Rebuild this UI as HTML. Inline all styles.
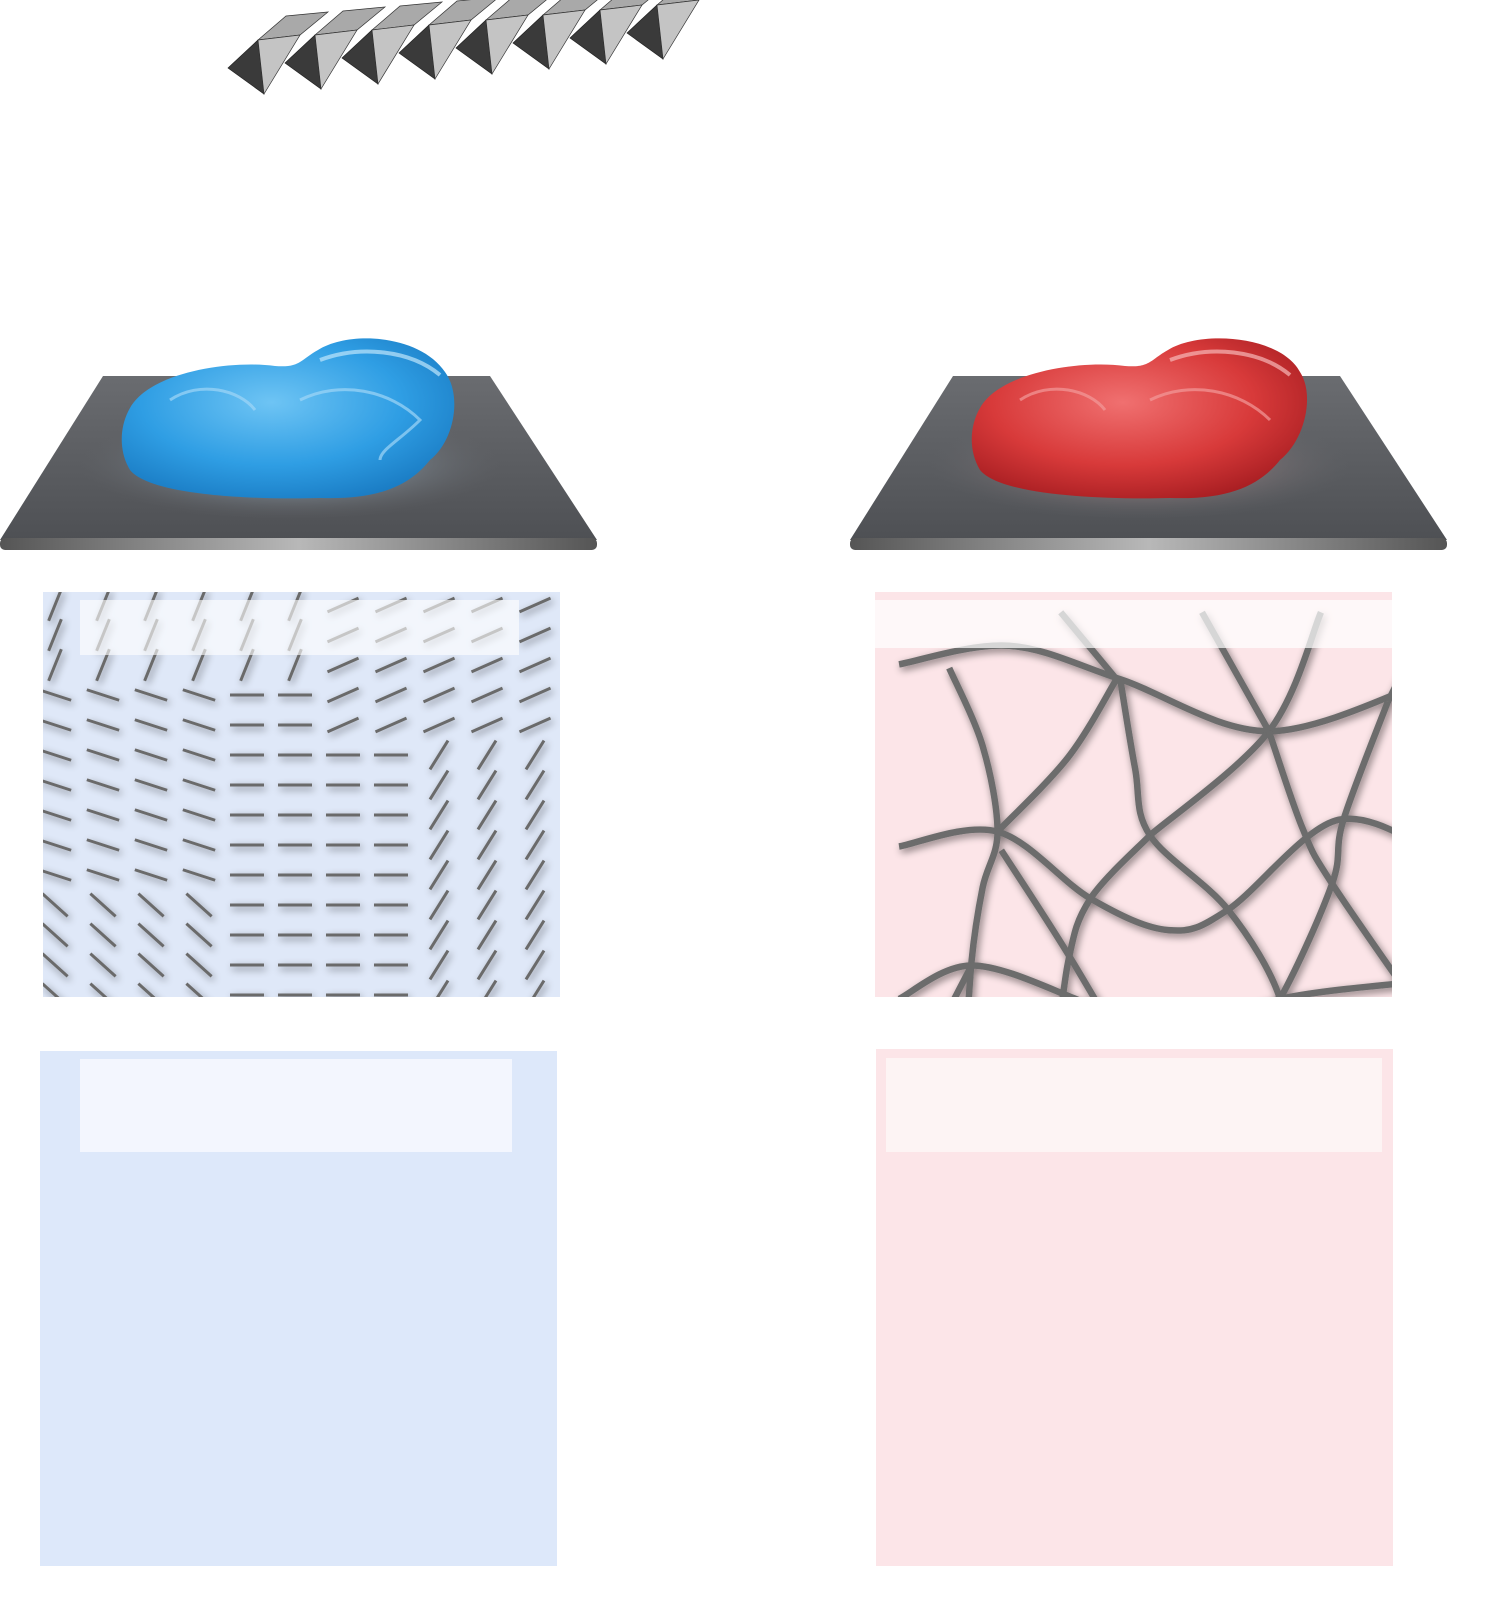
<!DOCTYPE html>
<html><head><meta charset="utf-8"><style>
html,body{margin:0;padding:0;background:#fff;}
svg{display:block;}
</style></head><body>
<svg id="fig" width="1488" height="1610" viewBox="0 0 1488 1610" xmlns="http://www.w3.org/2000/svg">
<defs>
<linearGradient id="plateG" x1="0" y1="0" x2="0" y2="1"><stop offset="0" stop-color="#6a6c70"/><stop offset="1" stop-color="#4e5054"/></linearGradient>
<linearGradient id="edgeG" x1="0" y1="0" x2="1" y2="0"><stop offset="0" stop-color="#555"/><stop offset=".5" stop-color="#b8b8b8"/><stop offset="1" stop-color="#555"/></linearGradient>
<radialGradient id="glowB" cx=".5" cy=".5" r=".5"><stop offset="0" stop-color="#b8d8ee" stop-opacity=".9"/><stop offset="1" stop-color="#6a6c70" stop-opacity="0"/></radialGradient>
<radialGradient id="glowR" cx=".5" cy=".5" r=".5"><stop offset="0" stop-color="#e8b0b0" stop-opacity=".8"/><stop offset="1" stop-color="#6a6c70" stop-opacity="0"/></radialGradient>
<radialGradient id="blueG" cx=".45" cy=".4" r=".65"><stop offset="0" stop-color="#6ec4f4"/><stop offset=".6" stop-color="#2f9ee4"/><stop offset="1" stop-color="#1a7cc4"/></radialGradient>
<radialGradient id="redG" cx=".45" cy=".4" r=".65"><stop offset="0" stop-color="#f07070"/><stop offset=".6" stop-color="#d83a3a"/><stop offset="1" stop-color="#a81e22"/></radialGradient>
<filter id="sh" x="-20%" y="-20%" width="140%" height="140%"><feGaussianBlur in="SourceAlpha" stdDeviation="4"/><feOffset dx="2" dy="3"/><feComponentTransfer><feFuncA type="linear" slope=".5"/></feComponentTransfer><feMerge><feMergeNode/><feMergeNode in="SourceGraphic"/></feMerge></filter>
<clipPath id="clipL"><rect x="43" y="592" width="517" height="405"/></clipPath>
<clipPath id="clipR"><rect x="875" y="592" width="517" height="405"/></clipPath>
</defs>

<g id="zig"></g>

<g>
<polygon points="103,376 490,376 597,540 0,540" fill="url(#plateG)"/>
<rect x="0" y="538" width="597" height="12" rx="5" fill="url(#edgeG)"/>
<ellipse cx="290" cy="465" rx="210" ry="55" fill="url(#glowB)"/>
</g>
<g>
<path d="M130,408 C150,372 230,360 275,366 C300,368 300,360 318,350 C350,330 420,335 445,372 C462,395 455,440 430,460 C410,485 380,500 320,498 C250,500 150,495 130,470 C118,450 120,425 130,408 Z" fill="url(#blueG)"/>
<path d="M320,360 C360,345 410,350 440,375" stroke="#bfe6fb" stroke-width="4" fill="none" opacity=".7"/>
<path d="M170,400 C200,380 240,390 255,410 M300,400 C340,380 390,390 420,420 C400,440 380,450 380,460" stroke="#9fd6f7" stroke-width="3" fill="none" opacity=".7"/>
</g>

<g>
<polygon points="953,376 1340,376 1447,540 850,540" fill="url(#plateG)"/>
<rect x="850" y="538" width="597" height="12" rx="5" fill="url(#edgeG)"/>
<ellipse cx="1140" cy="465" rx="210" ry="55" fill="url(#glowR)"/>
</g>
<g>
<path d="M980,408 C1000,372 1080,360 1125,366 C1150,368 1150,360 1168,350 C1200,330 1280,335 1300,372 C1315,395 1305,440 1280,460 C1260,485 1230,500 1170,498 C1100,500 1000,495 980,470 C968,450 970,425 980,408 Z" fill="url(#redG)"/>
<path d="M1170,360 C1210,345 1260,350 1290,375" stroke="#f6b8b8" stroke-width="4" fill="none" opacity=".7"/>
<path d="M1020,400 C1050,380 1090,390 1105,410 M1150,400 C1190,380 1240,390 1270,420" stroke="#f29a9a" stroke-width="3" fill="none" opacity=".7"/>
</g>

<g>
<rect x="43" y="592" width="517" height="405" fill="#dfe8f8"/>
<g id="dirs" clip-path="url(#clipL)" filter="url(#sh)"></g>
<rect x="80" y="600" width="439" height="55" fill="#ffffff" opacity=".62"/>
</g>

<g>
<rect x="875" y="592" width="517" height="405" fill="#fce5e8"/>
<g id="net" clip-path="url(#clipR)" filter="url(#sh)"></g>
<rect x="875" y="600" width="517" height="48" fill="#ffffff" opacity=".72"/>
</g>

<g>
<rect x="40" y="1051" width="517" height="515" fill="#dde8fa"/>
<rect x="80" y="1059" width="432" height="93" fill="#f3f6fe"/>
</g>
<g>
<rect x="876" y="1049" width="517" height="517" fill="#fce5e8"/>
<rect x="886" y="1058" width="496" height="94" fill="#fdf4f4"/>
</g>
</svg>
<script>
const NS='http://www.w3.org/2000/svg';
// origami zigzag
const zig=document.getElementById('zig');
for(let i=0;i<8;i++){
  const x=228+i*57, y=68-i*5;
  const back=document.createElementNS(NS,'polygon');
  back.setAttribute('points',`${x+30},${y-28} ${x+58},${y-52} ${x+100},${y-56} ${x+72},${y-33}`);
  back.setAttribute('fill','#a9a9a9');back.setAttribute('stroke','#333');back.setAttribute('stroke-width','0.7');
  
  
  zig.appendChild(back);
  const d=document.createElementNS(NS,'polygon');
  d.setAttribute('points',`${x},${y} ${x+30},${y-28} ${x+36},${y+26}`);
  d.setAttribute('fill','#3a3a3a');d.setAttribute('stroke','#222');d.setAttribute('stroke-width','0.7');
  
  
  zig.appendChild(d);
  const l=document.createElementNS(NS,'polygon');
  l.setAttribute('points',`${x+30},${y-28} ${x+72},${y-33} ${x+36},${y+26}`);
  l.setAttribute('fill','#c4c4c4');l.setAttribute('stroke','#333');l.setAttribute('stroke-width','0.7');
  
  
  zig.appendChild(l);
}
// director field
const dirs=document.getElementById('dirs');
function ang(x,y){
  if(y<690&&x<300) return -68;
  if(y<740&&x>=300) return -24;
  if(x>=420&&y>=740) return -58;
  if(x>=200&&x<420&&y>=690) return 0;
  if(y>=880) return 42;
  return 18;
}
for(let y=605;y<1000;y+=30){
  for(let x=55;x<570;x+=48){
    const a=ang(x,y)*Math.PI/180, L=17;
    const ln=document.createElementNS(NS,'line');
    ln.setAttribute('x1',x-L*Math.cos(a));ln.setAttribute('y1',y-L*Math.sin(a));
    ln.setAttribute('x2',x+L*Math.cos(a));ln.setAttribute('y2',y+L*Math.sin(a));
    ln.setAttribute('stroke','#6b6b6b');ln.setAttribute('stroke-width','3');
    
    
    dirs.appendChild(ln);
  }
}
// network curves (zoom coords -> page)
const curves=[
 [[240,210],[330,420],[370,650],[330,800],[300,1000],[280,1320]],
 [[105,200],[400,150],[700,240],[1100,380],[1540,240]],
 [[700,240],[740,480],[780,660],[990,860],[1130,1100],[1140,1320]],
 [[690,240],[560,450],[370,650]],
 [[105,690],[370,650],[620,830],[830,915],[990,860],[1280,620],[1540,700]],
 [[780,660],[1100,380],[1240,60]],
 [[780,660],[620,830],[560,1000],[520,1320]],
 [[1100,380],[1190,640],[1270,790],[1540,1180]],
 [[1420,300],[1300,620],[1270,790],[1130,1100],[980,1320]],
 [[105,1100],[300,1010],[580,1100],[800,1210],[1130,1100],[1540,1050]],
 [[380,700],[560,980],[760,1320]],
 [[140,1320],[300,1010]],
 [[1420,300],[1540,60]],
 [[540,60],[690,240]],
 [[920,60],[1100,380]]
];
const net=document.getElementById('net');
function P(p){return [860+p[0]/2.69, 590+p[1]/2.69];}
curves.forEach(c=>{
  const pts=c.map(P);
  let d='M'+pts[0].join(',');
  for(let i=1;i<pts.length;i++){
    const p0=pts[i-1],p1=pts[i];
    const pm=pts[i-2]||p0, pn=pts[i+1]||p1;
    const c1=[p0[0]+(p1[0]-pm[0])/6,p0[1]+(p1[1]-pm[1])/6];
    const c2=[p1[0]-(pn[0]-p0[0])/6,p1[1]-(pn[1]-p0[1])/6];
    d+=` C${c1.join(',')} ${c2.join(',')} ${p1.join(',')}`;
  }
  const path=document.createElementNS(NS,'path');
  path.setAttribute('d',d);path.setAttribute('fill','none');
  path.setAttribute('stroke','#6c6c6c');path.setAttribute('stroke-width','6.5');
  
  
  net.appendChild(path);
});
</script>
</body></html>
